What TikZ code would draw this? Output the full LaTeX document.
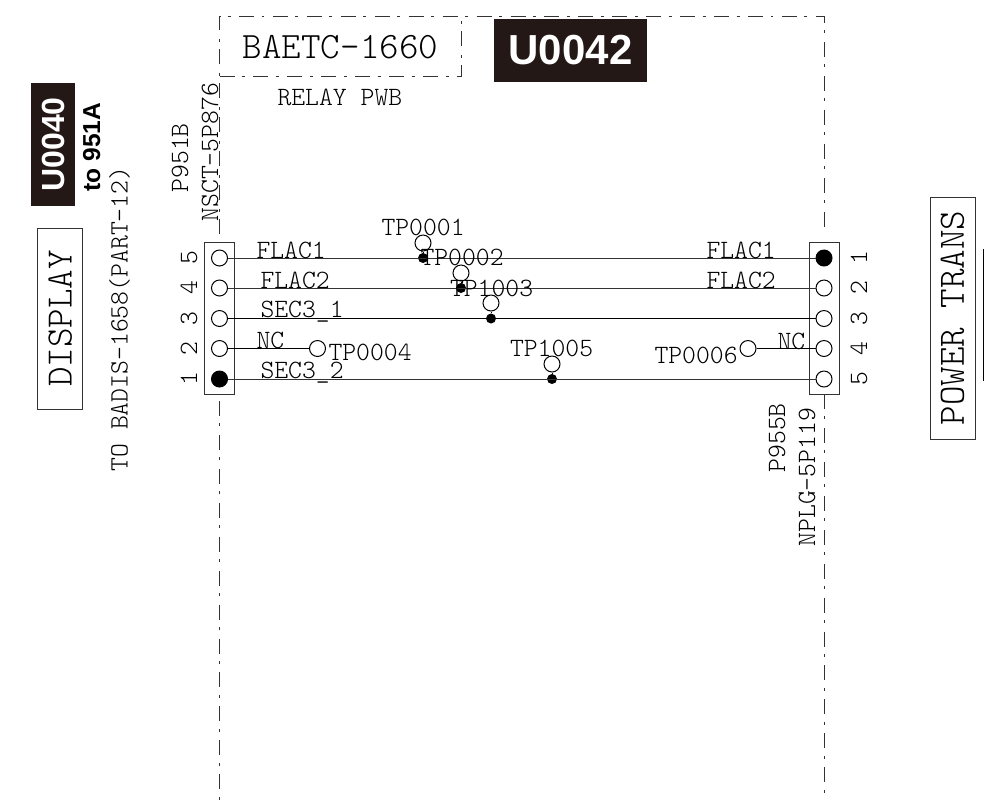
\documentclass[tikz,border=0pt]{standalone}
\usepackage{fontspec}
\setmonofont{Latin Modern Mono Light}
\newfontfamily\tagfont{Liberation Sans}

\definecolor{tagblack}{rgb}{0.137,0.094,0.082}
\definecolor{inkgray}{rgb}{0.2,0.2,0.2}

\tikzset{every picture/.style={line width=0.75pt}}
\tikzset{
  bigtext/.style={font=\ttfamily\fontsize{27.9}{29}\selectfont,inner sep=0pt},
  smalltext/.style={font=\ttfamily\fontsize{19.8}{21}\selectfont,inner sep=0pt,anchor=base west},
  upright/.style={smalltext,rotate=90},
  pinnum/.style={font=\ttfamily\fontsize{19.8}{21}\selectfont,inner sep=0pt,anchor=base,rotate=90},
  pinopen/.style={circle,draw,inner sep=0pt,minimum size=12pt},
  pinfull/.style={circle,draw,fill=black,inner sep=0pt,minimum size=12pt},
  tpdot/.style={circle,fill=black,inner sep=0pt,minimum size=7.5pt},
  namebox/.style={draw=inkgray,bigtext,rotate=90},
  tagbox/.style={fill=tagblack,text=white,inner sep=0pt},
  boardline/.style={draw=inkgray,dash pattern=on 11.25pt off 5.6pt on 2.2pt off 6.4pt},
  wire/.style={draw=inkgray}
}

\begin{document}
\begin{tikzpicture}[x=0.75pt,y=0.75pt,yscale=-1,xscale=1]
\useasboundingbox (0,0) rectangle (984,801);

%Board outline
\draw [boardline] (219.5,234) -- (219.5,16) -- (824,16) -- (824,233) ;
\draw [boardline] (219.5,401) -- (219.5,801) ;
\draw [boardline] (824,394) -- (824,801) ;
\draw [boardline] (219.5,76) -- (461,76) -- (461,16) ;

%Connector bodies
\draw [inkgray] (204,242.5) rectangle (234.5,394) ;
\draw [inkgray] (809,242.5) rectangle (839,394) ;
%Edge of the box at the right margin
\draw [black] (984,249) -- (983,249) -- (983,380) -- (984,380) ;

%Pins of P951B
\draw (219.5,258) node [pinopen] (lpin5) {};
\draw (219.5,288) node [pinopen] (lpin4) {};
\draw (219.5,318.5) node [pinopen] (lpin3) {};
\draw (219.5,348.5) node [pinopen] (lpin2) {};
\draw (219.5,379) node [pinfull] (lpin1) {};
%Pins of P955B
\draw (824,258) node [pinfull] (rpin1) {};
\draw (824,288) node [pinopen] (rpin2) {};
\draw (824,318.5) node [pinopen] (rpin3) {};
\draw (824,348.5) node [pinopen] (rpin4) {};
\draw (824,379) node [pinopen] (rpin5) {};

%Test points
\draw (423,243) node [pinopen] (tp1) {};
\draw (423,258) node [tpdot] (tp1dot) {};
\draw (461,273) node [pinopen] (tp2) {};
\draw (461,288) node [tpdot] (tp2dot) {};
\draw (491,303) node [pinopen] (tp3) {};
\draw (491,318.5) node [tpdot] (tp3dot) {};
\draw (552,364) node [pinopen] (tp5) {};
\draw (552,379) node [tpdot] (tp5dot) {};
\draw (317.5,348.5) node [pinopen] (tp4) {};
\draw (748,348.5) node [pinopen] (tp6) {};

%Straight Lines
\draw [wire] (lpin5) -- (rpin1) ;
\draw [wire] (lpin4) -- (rpin2) ;
\draw [black] (lpin3) -- (rpin3) ;
\draw [black] (lpin2) -- (tp4) ;
\draw [black] (tp6) -- (rpin4) ;
\draw [wire] (lpin1) -- (rpin5) ;
\draw (tp1) -- (tp1dot) ;
\draw (tp2) -- (tp2dot) ;
\draw (tp3) -- (tp3dot) ;
\draw (tp5) -- (tp5dot) ;

% Text Node
\draw (256,258) node [smalltext] (flac1l) {FLAC1};
% Text Node
\draw (260,288) node [smalltext] (flac2l) {FLAC2};
% Text Node
\draw (260,317) node [smalltext] (sec31) {SEC3\_1};
% Text Node
\draw (256,348) node [smalltext] (ncl) {NC};
% Text Node
\draw (260,378) node [smalltext] (sec32) {SEC3\_2};
% Text Node
\draw (706,258) node [smalltext] (flac1r) {FLAC1};
% Text Node
\draw (706,288) node [smalltext] (flac2r) {FLAC2};
% Text Node
\draw (777,349) node [smalltext] (ncr) {NC};
% Text Node
\draw (381,235) node [smalltext] (tp0001) {TP0001};
% Text Node
\draw (420,265) node [smalltext] (tp0002) {TP0002};
% Text Node
\draw (449.5,296) node [smalltext] (tp1003) {TP1003};
% Text Node
\draw (328,360) node [smalltext] (tp0004) {TP0004};
% Text Node
\draw (509.5,356) node [smalltext] (tp1005) {TP1005};
% Text Node
\draw (654,363) node [smalltext] (tp0006) {TP0006};

% Text Node
\draw (197,258) node [pinnum] (lnum5) {5};
% Text Node
\draw (197,288) node [pinnum] (lnum4) {4};
% Text Node
\draw (197,318.5) node [pinnum] (lnum3) {3};
% Text Node
\draw (197,348.5) node [pinnum] (lnum2) {2};
% Text Node
\draw (197,379) node [pinnum] (lnum1) {1};
% Text Node
\draw (867,258) node [pinnum] (rnum1) {1};
% Text Node
\draw (867,288) node [pinnum] (rnum2) {2};
% Text Node
\draw (867,318.5) node [pinnum] (rnum3) {3};
% Text Node
\draw (867,348.5) node [pinnum] (rnum4) {4};
% Text Node
\draw (867,379) node [pinnum] (rnum5) {5};

% Text Node
\draw (188,193) node [upright] (p951b) {P951B};
% Text Node
\draw (218,222) node [upright] (nsct) {NSCT-5P876};
% Text Node
\draw (127.5,472) node [upright] (badis) {TO BADIS-1658(PART-12)};
% Text Node
\draw (785,473) node [upright] (p955b) {P955B};
% Text Node
\draw (815,547) node [upright] (nplg) {NPLG-5P119};

% Text Node
\draw (340.5,58.5) node [bigtext,anchor=base] (baetc) {BAETC-1660};
% Text Node
\draw (277,105) node [smalltext] (relay) {RELAY PWB};
% Text Node
\draw (60.25,318.5) node [namebox,minimum width=135.75pt,minimum height=34pt] (display) {DISPLAY};
% Text Node
\draw (952.5,318) node [namebox,minimum width=181.5pt,minimum height=33.75pt] (power) {POWER TRANS};

% Text Node
\draw (570.5,50.5) node [tagbox,font=\tagfont\bfseries\fontsize{31.5}{32}\selectfont,minimum width=114.75pt,minimum height=47.25pt] (u0042) {U0042};
% Text Node
\draw (53,144.5) node [tagbox,rotate=90,font=\tagfont\bfseries\fontsize{24}{25}\selectfont,minimum width=92.25pt,minimum height=33pt] (u0040) {U0040};
% Text Node
\draw (100,192) node [inner sep=0pt,anchor=base west,rotate=90,font=\tagfont\bfseries\fontsize{18.4}{19}\selectfont] (to951) {to 951A};

\end{tikzpicture}
\end{document}
